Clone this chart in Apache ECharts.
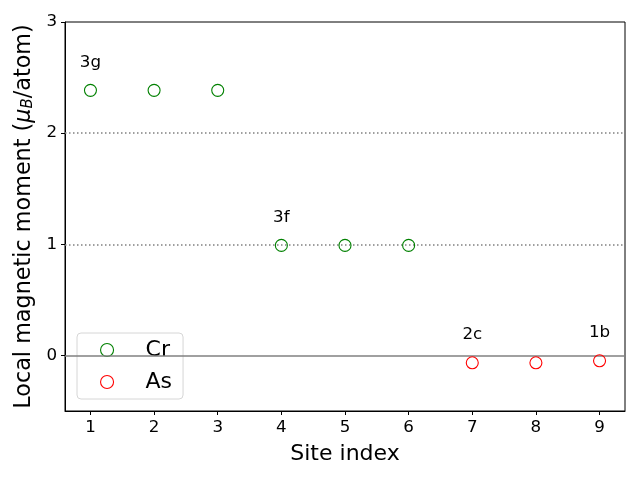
<!DOCTYPE html>
<html><head><meta charset="utf-8">
<script src="https://cdn.jsdelivr.net/npm/echarts@6/dist/echarts.min.js"></script>
<style>html,body{margin:0;padding:0;background:#fff}#c{width:640px;height:480px}</style>
</head><body><div id="c"></div>
<script>
const crSites = [1, 2, 3, 4, 5, 6];
const crMoments = [2.385, 2.385, 2.385, 0.99, 0.99, 0.99];
const asSites = [7, 8, 9];
const asMoments = [-0.066, -0.066, -0.048];
const wyckoffLabels = ['3g', '3f', '2c', '1b'];
const labelSites = [1, 4, 7, 9];
const labelHeights = [2.56, 1.165, 0.112, 0.13];
const xTicks = [1, 2, 3, 4, 5, 6, 7, 8, 9];
const yTicks = [0, 1, 2, 3];

const font = 'DejaVu Sans';
const chart = echarts.init(document.getElementById('c'), null, {renderer: 'canvas'});
chart.setOption({
  animation: false,
  textStyle: {fontFamily: font},
  grid: {left: 65, right: 15, top: 22, bottom: 69, show: true, borderColor: '#000', borderWidth: 1, backgroundColor: 'transparent'},
  legend: {
    left: 77, top: 333, orient: 'vertical', itemGap: 10,
    padding: [6, 11, 6, 23],
    borderColor: '#d6d6d6', borderWidth: 1, borderRadius: 4, backgroundColor: 'rgba(255,255,255,0.8)',
    itemWidth: 13, itemHeight: 13,
    itemStyle: {borderWidth: 1.1},
    textStyle: {fontSize: 22, color: '#000', fontFamily: font, padding: [0, 0, 0, 27]},
    data: ['Cr', 'As']
  },
  xAxis: {
    type: 'value', min: 0.6, max: 9.4,
    name: 'Site index', nameLocation: 'middle', nameGap: 32,
    nameTextStyle: {fontSize: 22, color: '#000', fontFamily: font},
    axisLine: {show: true, onZero: false, lineStyle: {color: '#000'}},
    axisTick: {show: true, length: 4, inside: false, customValues: xTicks, lineStyle: {color: '#000'}},
    axisLabel: {color: '#000', fontSize: 16.7, margin: 8, customValues: xTicks, fontFamily: font},
    splitLine: {show: false}
  },
  yAxis: {
    type: 'value', min: -0.5, max: 3,
    name: '{n|Local magnetic moment (}{i|μ}{s|B}{n|/atom)}', nameLocation: 'middle', nameGap: 22, nameRotate: 90,
    nameTextStyle: {
      fontSize: 22.3, color: '#000', fontFamily: font,
      rich: {
        n: {fontSize: 22.3, color: '#000', fontFamily: font},
        i: {fontSize: 22.3, color: '#000', fontFamily: font, fontStyle: 'italic'},
        s: {fontSize: 15, color: '#000', fontFamily: font, fontStyle: 'italic', verticalAlign: 'bottom', padding: [8, 0, 0, 0]}
      }
    },
    axisLine: {show: true, onZero: false, lineStyle: {color: '#000'}},
    axisTick: {show: true, length: 4, inside: false, customValues: yTicks, lineStyle: {color: '#000'}},
    axisLabel: {color: '#000', fontSize: 16.7, margin: 8, customValues: yTicks, fontFamily: font},
    splitLine: {show: false}
  },
  series: [
    {
      name: 'Cr', type: 'scatter', symbol: 'circle', symbolSize: 12,
      itemStyle: {color: 'rgba(0,0,0,0)', borderColor: '#008000', borderWidth: 1.1, opacity: 1},
      data: crSites.map((x, i) => [x, crMoments[i]]),
      z: 5,
      markLine: {
        silent: true, symbol: 'none', label: {show: false},
        data: [
          {yAxis: 0, lineStyle: {color: '#808080', type: 'solid', width: 1.5}},
          {yAxis: 1, lineStyle: {color: '#808080', type: [1.5, 2.5], width: 1.5}},
          {yAxis: 2, lineStyle: {color: '#808080', type: [1.5, 2.5], width: 1.5}}
        ]
      }
    },
    {
      name: 'As', type: 'scatter', symbol: 'circle', symbolSize: 12,
      itemStyle: {color: 'rgba(0,0,0,0)', borderColor: '#ff0000', borderWidth: 1.1, opacity: 1},
      data: asSites.map((x, i) => [x, asMoments[i]]),
      z: 5
    },
    {
      name: 'labels', type: 'scatter', symbolSize: 0, silent: true,
      itemStyle: {opacity: 1},
      data: labelSites.map((x, i) => ({value: [x, labelHeights[i]], label: {formatter: wyckoffLabels[i]}})),
      label: {show: true, position: 'top', distance: 0, color: '#000', opacity: 1, fontSize: 16.7, fontFamily: font}
    }
  ]
});
</script></body></html>
